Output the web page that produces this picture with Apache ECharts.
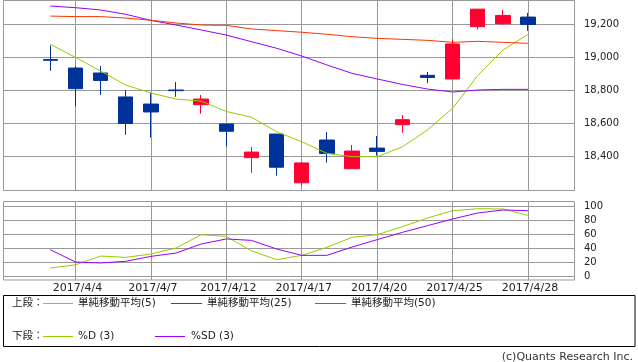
<!DOCTYPE html>
<html><head><meta charset="utf-8">
<script src="https://cdn.jsdelivr.net/npm/echarts@6/dist/echarts.min.js"></script>
<style>html,body{margin:0;padding:0;background:#fff}#c{width:638px;height:362px}</style>
</head><body><div id="c"></div>
<script>
// ---- data ----
const dates = ['2017/4/3','2017/4/4','2017/4/5','2017/4/6','2017/4/7','2017/4/10','2017/4/11','2017/4/12','2017/4/13','2017/4/14','2017/4/17','2017/4/18','2017/4/19','2017/4/20','2017/4/21','2017/4/24','2017/4/25','2017/4/26','2017/4/27','2017/4/28'];
const openP  = [18985, 18933, 18903, 18758, 18715, 18800, 18711, 18594, 18390, 18533, 18238, 18497, 18323, 18448, 18590, 18889, 18867, 19184, 19202, 19242];
const closeP = [18980, 18808, 18858, 18597, 18667, 18796, 18745, 18550, 18424, 18332, 18358, 18415, 18430, 18428, 18620, 18876, 19079, 19290, 19252, 19197];
const lowP   = [18917, 18699, 18770, 18529, 18511, 18759, 18656, 18457, 18299, 18281, 18220, 18360, 18323, 18402, 18541, 18841, 18867, 19166, 19194, 19159];
const highP  = [19069, 18945, 18945, 18800, 18784, 18848, 18770, 18594, 18455, 18533, 18364, 18545, 18467, 18521, 18648, 18909, 19107, 19291, 19285, 19267];
const ma5  = [19077, 18998, 18915, 18830, 18782, 18745, 18733, 18670, 18635, 18547, 18487, 18416, 18396, 18396, 18455, 18558, 18689, 18887, 19042, 19137];
const ma25 = [19309, 19299, 19285, 19259, 19222, 19194, 19164, 19133, 19093, 19053, 19006, 18952, 18901, 18867, 18834, 18806, 18788, 18800, 18804, 18804];
const ma50 = [19248, 19245, 19245, 19236, 19223, 19206, 19194, 19192, 19170, 19160, 19150, 19138, 19123, 19113, 19107, 19101, 19089, 19095, 19089, 19083];
const pctD  = [11.4, 16, 28.5, 26.6, 31.4, 40, 59, 56.6, 36, 23.3, 29.5, 40.9, 55.2, 59, 70.4, 82.8, 93.3, 96.1, 95.7, 86.6];
const pctSD = [37.6, 20, 18.6, 21, 28, 32.8, 45.7, 52.9, 50.9, 38.6, 29.5, 29.5, 41.4, 51.9, 62.3, 71.9, 81.4, 90, 94.3, 93.3];
const upperTicks = [18400, 18600, 18800, 19000, 19200];
const lowerTicks = [0, 20, 40, 60, 80, 100];

// ---- chart ----
const chart = echarts.init(document.getElementById('c'), null, {renderer: 'canvas'});
const gridColor = '#999999';
const txt = '#222222';
const latin = 'DejaVu Sans';
const legendFont = '10.5px "DejaVu Sans", "Noto Sans CJK JP"';
const cMA5 = '#99cc00', cMA25 = '#9900ff', cMA50 = '#ff3300';
const dataLeft = 50.3, dataWidth = 477.7;
const pick = (i) => i % 3 === 1;

function catAxis(gridIndex, showLabel) {
  return {
    type: 'category', gridIndex: gridIndex, data: dates, boundaryGap: false,
    axisLine: {show: false}, axisTick: {show: false},
    axisLabel: {show: showLabel, interval: pick, margin: 3, color: txt, fontFamily: latin, fontSize: 11, padding: [0, 0, 0, 4]},
    splitLine: {show: true, interval: pick, lineStyle: {color: gridColor, width: 1}}
  };
}
function bgY(gridIndex, ticks, fmt) {
  return {
    type: 'value', gridIndex: gridIndex, position: 'right',
    min: ticks[0], max: ticks[ticks.length - 1], interval: ticks[1] - ticks[0],
    axisLine: {show: false}, axisTick: {show: false},
    axisLabel: {margin: 10, color: txt, fontFamily: latin, fontSize: 10, formatter: fmt},
    splitLine: {show: true, lineStyle: {color: gridColor, width: 1}}
  };
}
const comma = (v) => String(v).replace(/\B(?=(\d{3})+(?!\d))/g, ',');

const legendRow1 = 303.5, legendRow2 = 336.5;
const graphics = [
  {type: 'rect', z: 0, shape: {x: 3.5, y: 0.5, width: 571, height: 190}, style: {fill: 'transparent', stroke: gridColor, lineWidth: 1}},
  {type: 'rect', z: 0, shape: {x: 3.5, y: 201.5, width: 571, height: 78.5}, style: {fill: 'transparent', stroke: gridColor, lineWidth: 1}},
  {type: 'rect', z: 0, shape: {x: 3.5, y: 295.5, width: 631.5, height: 51}, style: {fill: 'transparent', stroke: '#000', lineWidth: 1}},
  {type: 'text', style: {text: '上段：', x: 12, y: legendRow1, font: legendFont, fill: txt, verticalAlign: 'middle'}},
  {type: 'line', shape: {x1: 43, y1: legendRow1, x2: 73, y2: legendRow1}, style: {stroke: cMA5, lineWidth: 1}},
  {type: 'text', style: {text: '単純移動平均(5)', x: 78, y: legendRow1, font: legendFont, fill: txt, verticalAlign: 'middle'}},
  {type: 'line', shape: {x1: 171, y1: legendRow1, x2: 202, y2: legendRow1}, style: {stroke: cMA25, lineWidth: 1}},
  {type: 'text', style: {text: '単純移動平均(25)', x: 207, y: legendRow1, font: legendFont, fill: txt, verticalAlign: 'middle'}},
  {type: 'line', shape: {x1: 315, y1: legendRow1, x2: 346, y2: legendRow1}, style: {stroke: cMA50, lineWidth: 1}},
  {type: 'text', style: {text: '単純移動平均(50)', x: 351, y: legendRow1, font: legendFont, fill: txt, verticalAlign: 'middle'}},
  {type: 'text', style: {text: '下段：', x: 12, y: legendRow2, font: legendFont, fill: txt, verticalAlign: 'middle'}},
  {type: 'line', shape: {x1: 43, y1: legendRow2, x2: 73, y2: legendRow2}, style: {stroke: cMA5, lineWidth: 1}},
  {type: 'text', style: {text: '%D (3)', x: 78, y: legendRow2, font: legendFont, fill: txt, verticalAlign: 'middle'}},
  {type: 'line', shape: {x1: 155, y1: legendRow2, x2: 185, y2: legendRow2}, style: {stroke: cMA25, lineWidth: 1}},
  {type: 'text', style: {text: '%SD (3)', x: 191, y: legendRow2, font: legendFont, fill: txt, verticalAlign: 'middle'}},
  {type: 'text', style: {text: '(c)Quants Research Inc.', x: 633, y: 357, font: '11px "DejaVu Sans"', fill: '#333', align: 'right', verticalAlign: 'middle'}}
];

const option = {
  animation: false,
  backgroundColor: '#ffffff',
  grid: [
    {left: 3, width: 571, top: 24, height: 132},
    {left: dataLeft, width: dataWidth, top: 0, height: 190},
    {left: 3, width: 571, top: 206, height: 70},
    {left: dataLeft, width: dataWidth, top: 201.5, height: 78.5}
  ],
  xAxis: [
    {type: 'value', gridIndex: 0, show: false, min: 0, max: 1},
    catAxis(1, false),
    {type: 'value', gridIndex: 2, show: false, min: 0, max: 1},
    catAxis(3, true)
  ],
  yAxis: [
    bgY(0, upperTicks, comma),
    {type: 'value', gridIndex: 1, min: 18194, max: 19345.5, show: false},
    bgY(2, lowerTicks, (v) => String(v)),
    {type: 'value', gridIndex: 3, min: -5.7, max: 106.4, show: false}
  ],
  graphic: graphics,
  series: [
    {
      name: '日足', type: 'candlestick', xAxisIndex: 1, yAxisIndex: 1, barWidth: 15,
      data: dates.map((d, i) => [openP[i], closeP[i], lowP[i], highP[i]]),
      itemStyle: {color: '#ff0033', color0: '#003399', borderColor: '#ff0033', borderColor0: '#003399', borderWidth: 1}
    },
    {name: '単純移動平均(5)', type: 'line', xAxisIndex: 1, yAxisIndex: 1, data: ma5, symbol: 'none', lineStyle: {color: cMA5, width: 1}},
    {name: '単純移動平均(25)', type: 'line', xAxisIndex: 1, yAxisIndex: 1, data: ma25, symbol: 'none', lineStyle: {color: cMA25, width: 1}},
    {name: '単純移動平均(50)', type: 'line', xAxisIndex: 1, yAxisIndex: 1, data: ma50, symbol: 'none', lineStyle: {color: cMA50, width: 1}},
    {name: '%D (3)', type: 'line', xAxisIndex: 3, yAxisIndex: 3, data: pctD, symbol: 'none', lineStyle: {color: cMA5, width: 1}},
    {name: '%SD (3)', type: 'line', xAxisIndex: 3, yAxisIndex: 3, data: pctSD, symbol: 'none', lineStyle: {color: cMA25, width: 1}}
  ]
};
chart.setOption(option);
</script>
</body></html>
